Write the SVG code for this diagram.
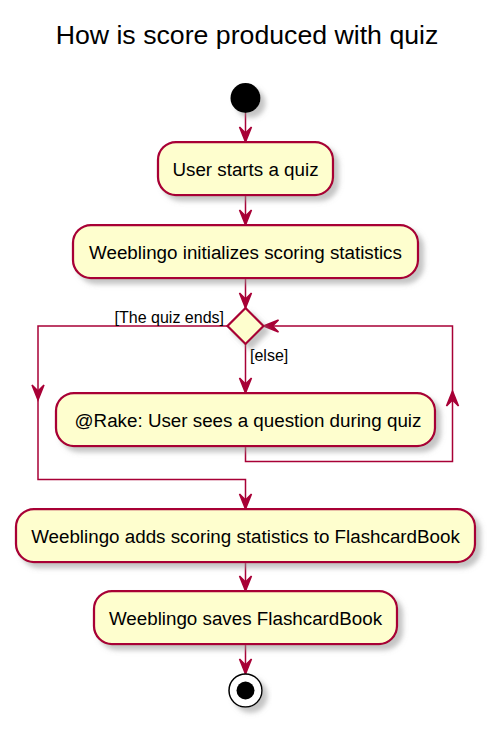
<svg xmlns="http://www.w3.org/2000/svg" width="498" height="731" viewBox="0 0 498 731">
<defs>
<filter id="sh" x="-20%" y="-20%" width="150%" height="160%">
<feGaussianBlur in="SourceAlpha" stdDeviation="2.5"/>
<feOffset dx="4.5" dy="4.5" result="b"/>
<feColorMatrix in="b" type="matrix" values="0 0 0 0 0.3  0 0 0 0 0.3  0 0 0 0 0.3  0 0 0 0.55 0" result="c"/>
<feMerge><feMergeNode in="c"/><feMergeNode in="SourceGraphic"/></feMerge>
</filter>
<path id="ah" d="M0,0 L-6,-15 L0,-9 L6,-15 Z"/>
</defs>
<style>
.box{fill:#FEFECE;stroke:#A80036;stroke-width:2.25;filter:url(#sh)}
.t{font-family:"Liberation Sans",Arial,sans-serif;font-size:18.8px;fill:#000;text-anchor:middle}
.lbl{font-family:"Liberation Sans",Arial,sans-serif;font-size:16px;fill:#000}
.title{font-family:"Liberation Sans",Arial,sans-serif;font-size:26.7px;fill:#000;text-anchor:middle}
.ln{fill:none;stroke:#A80036;stroke-width:1.5}
.head{fill:#A80036;stroke:#A80036;stroke-width:1.5}
</style>
<rect width="498" height="731" fill="#FFFFFF"/>
<text class="title" x="247" y="44">How is score produced with quiz</text>

<g id="connectors">
<path class="ln" d="M245.5,113 V142"/>
<use href="#ah" class="head" transform="translate(245.5,142)"/>
<path class="ln" d="M245.5,195 V225"/>
<use href="#ah" class="head" transform="translate(245.5,225)"/>
<path class="ln" d="M245.5,278 V308"/>
<use href="#ah" class="head" transform="translate(245.5,308)"/>
<path class="ln" d="M245.5,344 V393"/>
<use href="#ah" class="head" transform="translate(245.5,393)"/>
<text class="lbl" x="250" y="361">[else]</text>
<path class="ln" d="M227,326 H38 V479.5 H245.5 V509"/>
<use href="#ah" class="head" transform="translate(38,400)"/>
<use href="#ah" class="head" transform="translate(245.5,509)"/>
<text class="lbl" x="224" y="322.5" text-anchor="end">[The quiz ends]</text>
<path class="ln" d="M245.5,446 V461.5 H452.5 V326 H263.5"/>
<use href="#ah" class="head" transform="translate(452.5,391) rotate(180)"/>
<use href="#ah" class="head" transform="translate(263.5,326) rotate(90)"/>
<path class="ln" d="M245.5,562 V591"/>
<use href="#ah" class="head" transform="translate(245.5,591)"/>
<path class="ln" d="M245.5,644 V674"/>
<use href="#ah" class="head" transform="translate(245.5,674)"/>
</g>

<g id="start">
<circle cx="245.5" cy="98" r="15" fill="#000000" filter="url(#sh)"/>
</g>
<g id="userStarts">
<rect class="box" x="158" y="142" width="175" height="53" rx="18" ry="18"/>
<text class="t" x="245.5" y="176">User starts a quiz</text>
</g>
<g id="initStats">
<rect class="box" x="73" y="225" width="345" height="53" rx="18" ry="18"/>
<text class="t" x="245.5" y="259">Weeblingo initializes scoring statistics</text>
</g>
<g id="decision">
<polygon class="box" points="245.5,308 263.5,326 245.5,344 227.5,326"/>
</g>
<g id="seeQuestion">
<rect class="box" x="56" y="393" width="379" height="53" rx="18" ry="18"/>
<text class="t" x="248" y="427">@Rake: User sees a question during quiz</text>
</g>
<g id="addStats">
<rect class="box" x="16" y="509" width="459" height="53" rx="18" ry="18"/>
<text class="t" x="245.5" y="543">Weeblingo adds scoring statistics to FlashcardBook</text>
</g>
<g id="saveBook">
<rect class="box" x="94" y="591" width="303" height="53" rx="18" ry="18"/>
<text class="t" x="245.5" y="625">Weeblingo saves FlashcardBook</text>
</g>
<g id="end">
<circle cx="245.5" cy="690.5" r="16.5" fill="#FFFFFF" stroke="#000000" stroke-width="1.5" filter="url(#sh)"/>
<circle cx="245.5" cy="690.5" r="9" fill="#000000"/>
</g>
</svg>
